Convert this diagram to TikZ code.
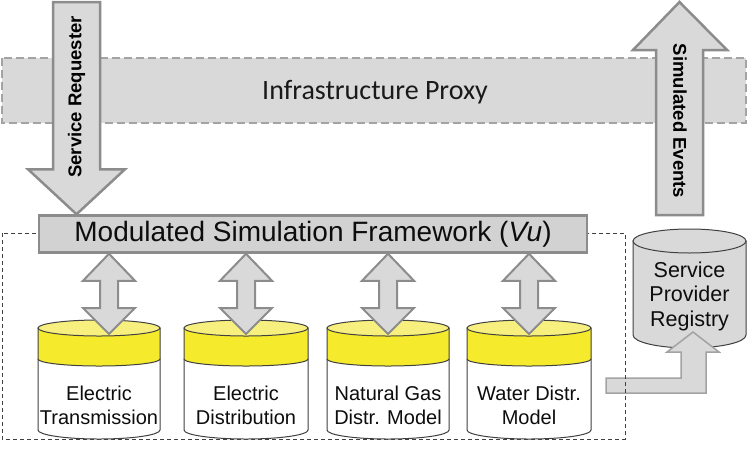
\documentclass[tikz,border=0pt]{standalone}
\usepackage{fontspec}
\setmainfont{Liberation Sans}
\newfontfamily\proxyfont{Carlito}
\usetikzlibrary{calc}

\definecolor{boxgray}{HTML}{D9D9D9}
\definecolor{fwgray}{HTML}{D2D2D2}
\definecolor{edgegray}{HTML}{8C8C8C}
\definecolor{dashgray}{HTML}{A3A3A3}
\definecolor{darkline}{HTML}{404040}
\definecolor{bandyellow}{HTML}{F5EA2C}
\definecolor{topyellow}{HTML}{F8F07E}

\tikzset{
	bigarrow/.style={fill=boxgray, draw=edgegray, line width=2.5pt, line join=miter},
	smallarrow/.style={fill=boxgray, draw=edgegray, line width=2pt, line join=miter},
	cylline/.style={draw=darkline, line width=1pt},
	modeltext/.style={align=center, font=\fontsize{20}{24}\selectfont, text=black!95},
}

% model cylinder: (centre x:radius)[name]{text}
\def\modelcyl(#1:#2)[#3]#4{%
	\coordinate (#3) at (#1,328);
	\draw[cylline, fill=white] (#1-#2,359) -- (#1-#2,430) arc[start angle=180, end angle=360, x radius=#2pt, y radius=9pt] -- (#1+#2,359) -- cycle;
	\draw[cylline, fill=bandyellow] (#1-#2,328) -- (#1-#2,359) arc[start angle=180, end angle=360, x radius=#2pt, y radius=7pt] -- (#1+#2,328) -- cycle;
	\draw[cylline, fill=topyellow] (#3) ellipse[x radius=#2pt, y radius=8pt];
	\node[modeltext] (#3text) at (#1,405) {#4};
}
% two-headed block arrow from {top tip} to {bottom tip}
\def\biarrow#1#2{%
	\draw[smallarrow] let \p1=(#1), \p2=(#2) in
		(\x1,\y1) -- (\x1+26pt,\y1-27pt) -- (\x1+9pt,\y1-27pt) -- (\x1+9pt,\y2+26pt) -- (\x1+26pt,\y2+26pt) -- (\x1,\y2)
		-- (\x1-26pt,\y2+26pt) -- (\x1-9pt,\y2+26pt) -- (\x1-9pt,\y1-27pt) -- (\x1-26pt,\y1-27pt) -- cycle;
}

\begin{document}
\begin{tikzpicture}[x=1pt, y=-1pt]
		%%%%% START %%%%%
		\useasboundingbox (0,0) rectangle (752,448);
		
		% proxy band
		\draw[fill=boxgray, draw=dashgray, line width=2.5pt, dash pattern=on 8pt off 4pt] (2,58) rectangle (746,123);
		\node[font=\proxyfont\fontsize{28}{32}\selectfont, text=black!90] (proxy) at (375,92) {Infrastructure Proxy};
		
		% registry
		\draw[cylline, fill=boxgray] (633,241) -- (633,335) arc[start angle=180, end angle=360, x radius=56.5pt, y radius=13pt] -- (746,241) -- cycle;
		\draw[cylline, fill=boxgray] (689.5,241) ellipse[x radius=56.5pt, y radius=12pt];
		\node[modeltext, font=\fontsize{21.5}{24.5}\selectfont] (reg) at (689.5,296) {Service\\Provider\\Registry};
		
		% registration arrow
		\coordinate (regtip) at (693,332);
		\draw[smallarrow, draw=dashgray, line width=1.5pt] (606,378) -- (681,378) -- (681,352) -- (667,352) -- (regtip) -- (719,352) -- (706,352) -- (706,393) -- (606,393) -- cycle;
		
		% framework
		\draw[darkline, line width=0.9pt, dash pattern=on 4pt off 3pt] (2,233) rectangle (625,439);
		\node[fill=fwgray, draw=edgegray, line width=2.5pt, minimum width=548pt, minimum height=37pt, inner sep=0pt, font=\fontsize{28}{32}\selectfont, text=black!95] (fw) at (313,234) {Modulated Simulation Framework (\textit{Vu})};
		
		% requester / events
		\coordinate (srtop) at (76.5,2);
		\draw[bigarrow] let \p1=(srtop), \p2=(fw.north -| srtop) in
			(\x1-23.5pt,\y1) -- (\x1+23.5pt,\y1) -- (\x1+23.5pt,\y2+45pt) -- (\x1+48.5pt,\y2+45pt) -- (\x1,\y2)
			-- (\x1-48.5pt,\y2+45pt) -- (\x1-23.5pt,\y2+45pt) -- cycle;
		\node[rotate=90, font=\bfseries\fontsize{18.5}{20}\selectfont] (sr) at (76.5,97) {Service Requester};
		
		\coordinate (setip) at (679.5,2);
		\draw[bigarrow] (656,215) -- (656,50) -- (633,50) -- (setip) -- (727,50) -- (703,50) -- (703,215) -- cycle;
		\node[rotate=-90, font=\bfseries\fontsize{18.5}{20}\selectfont] (se) at (680,121) {Simulated Events};
		
		% models
		\modelcyl(99:61)[m1]{Electric\\Transmission}
		\modelcyl(246:62)[m2]{Electric\\Distribution}
		\modelcyl(388:61)[m3]{Natural Gas\\Distr. Model}
		\modelcyl(529:62)[m4]{Water Distr.\\Model}
		
		\biarrow{$(fw.south -| m1)+(10,0)$}{$(m1)+(10,6)$}
		\biarrow{fw.south -| m2}{$(m2)+(0,6)$}
		\biarrow{fw.south -| m3}{$(m3)+(0,6)$}
		\biarrow{fw.south -| m4}{$(m4)+(0,6)$}
		
		%%%%% END %%%%%
	\end{tikzpicture}
\end{document}
